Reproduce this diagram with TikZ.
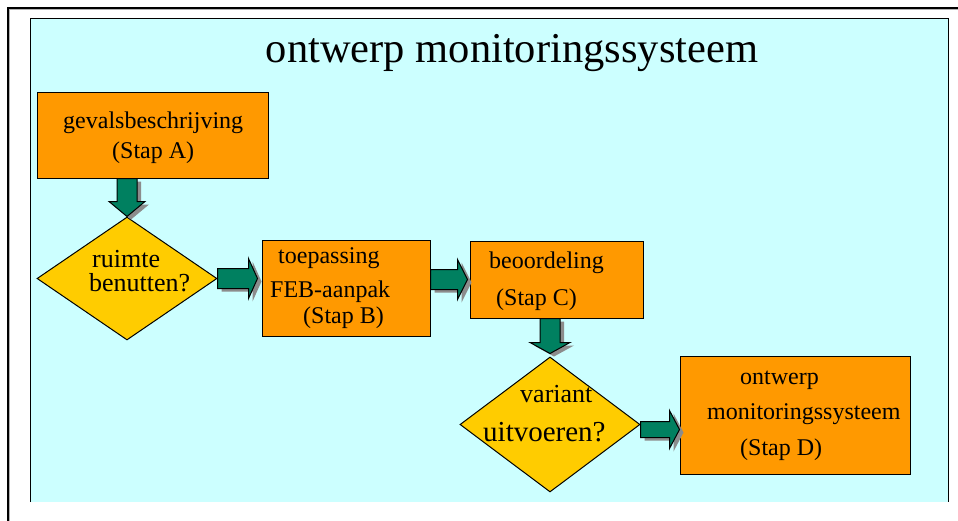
\documentclass[tikz,border=0pt]{standalone}
\usepackage{fontspec}
\setmainfont{Liberation Serif}
\usetikzlibrary{shapes.geometric,calc}
\definecolor{panelcyan}{HTML}{CCFFFF}
\definecolor{boxorange}{HTML}{FF9900}
\definecolor{diayellow}{HTML}{FFCC00}
\definecolor{arrgreen}{HTML}{008060}
\definecolor{shadowgray}{HTML}{8C8C8C}
\tikzset{
 stepbox/.style={draw=black, line width=1pt, fill=boxorange, inner sep=0pt},
 decision/.style={diamond, draw=black, line width=1pt, fill=diayellow, inner sep=0pt},
 boxtext/.style={anchor=base west, font=\fontsize{24}{28}\selectfont, inner sep=0pt},
 diatext/.style={anchor=base west, font=\fontsize{26}{30}\selectfont, inner sep=0pt},
 arrbody/.style={fill=arrgreen, draw=black, line width=1pt, line join=miter},
 arrshadow/.style={fill=shadowgray},
}
% right-pointing block arrow: #1 start, #2 tip (x only), #3 half stem, #4 half head, #5 head length
\newcommand\blkRight[5]{%
 \fill[arrshadow] let \p1=(#1),\p2=(#2) in
  (\x1+4pt,\y1+#3-3pt) -- (\x2-#5+4pt,\y1+#3-3pt) -- (\x2-#5+4pt,\y1+#4-3pt) -- (\x2+4pt,\y1-3pt)
  -- (\x2-#5+4pt,\y1-#4-3pt) -- (\x2-#5+4pt,\y1-#3-3pt) -- (\x1+4pt,\y1-#3-3pt) -- cycle;
 \draw[arrbody] let \p1=(#1),\p2=(#2) in
  (\x1,\y1+#3) -- (\x2-#5,\y1+#3) -- (\x2-#5,\y1+#4) -- (\x2,\y1)
  -- (\x2-#5,\y1-#4) -- (\x2-#5,\y1-#3) -- (\x1,\y1-#3) -- cycle;
}
% down-pointing block arrow: #1 start, #2 tip (y only)
\newcommand\blkDown[5]{%
 \fill[arrshadow] let \p1=(#1),\p2=(#2) in
  (\x1-#3+4pt,\y1-3pt) -- (\x1+#3+4pt,\y1-3pt) -- (\x1+#3+4pt,\y2+#5-3pt) -- (\x1+#4+4pt,\y2+#5-3pt)
  -- (\x1+4pt,\y2-3pt) -- (\x1-#4+4pt,\y2+#5-3pt) -- (\x1-#3+4pt,\y2+#5-3pt) -- cycle;
 \draw[arrbody] let \p1=(#1),\p2=(#2) in
  (\x1-#3,\y1) -- (\x1+#3,\y1) -- (\x1+#3,\y2+#5) -- (\x1+#4,\y2+#5)
  -- (\x1,\y2) -- (\x1-#4,\y2+#5) -- (\x1-#3,\y2+#5) -- cycle;
}
\begin{document}
\begin{tikzpicture}[x=1pt,y=-1pt]
\useasboundingbox (0,0) rectangle (958,520);
\fill[white] (0,0) rectangle (958,520);
% slide frame
\draw[line width=2pt, gray!60] (9,530) -- (9,9) -- (965,9);
\draw[line width=1.2pt, black] (8,530) -- (8,8) -- (965,8);
% panel
\fill[panelcyan] (30,18) rectangle (948,502);
\draw[line width=1pt, black] (30,502) -- (30,18) -- (948,18) -- (948,502);
\node[font=\fontsize{42.5}{48}\selectfont, anchor=base, inner sep=0pt] (title) at (512,62) {ontwerp monitoringssysteem};
% boxes
\node[stepbox, minimum width=231pt, minimum height=86pt] (A) at (152.5,135) {};
\node[stepbox, minimum width=168pt, minimum height=96pt] (B) at (346,288) {};
\node[stepbox, minimum width=173pt, minimum height=77pt] (C) at (556.5,279.5) {};
\node[stepbox, minimum width=230pt, minimum height=118pt] (D) at (795,415) {};
\node[decision, minimum width=180pt, minimum height=123pt] (d1) at (127,278.5) {};
\node[decision, minimum width=180pt, minimum height=135pt] (d2) at (550,424.5) {};
% texts
\node[boxtext] (tA1) at (63,128) {gevalsbeschrijving};
\node[boxtext] (tA2) at (112,158) {(Stap A)};
\node[boxtext] (tB1) at (278,263) {toepassing};
\node[boxtext] (tB2) at (270,297) {FEB-aanpak};
\node[boxtext] (tB3) at (303,323) {(Stap B)};
\node[boxtext] (tC1) at (489,268) {beoordeling};
\node[boxtext] (tC2) at (496,305) {(Stap C)};
\node[boxtext] (tD1) at (740,384) {ontwerp};
\node[boxtext] (tD2) at (707,419) {monitoringssysteem};
\node[boxtext] (tD3) at (740,455) {(Stap D)};
\node[diatext] (t11) at (92,267) {ruimte};
\node[diatext] (t12) at (89,291) {benutten?};
\node[diatext] (t21) at (520,402) {variant};
\node[diatext, font=\fontsize{29}{33}\selectfont] (t22) at (483,441) {uitvoeren?};
% arrows
\blkDown{A.south -| d1.north}{d1.north}{10pt}{18pt}{15pt}
\blkRight{d1.east}{$(B.west)+(-4,0)$}{10pt}{20pt}{9pt}
\blkRight{B.east |- C.west}{$(C.west)+(-2,0)$}{10pt}{20pt}{10pt}
\blkDown{C.south -| d2.north}{$(d2.north)+(0,-3)$}{10pt}{20pt}{11pt}
\blkRight{$(d2.east)+(0,5)$}{D.west}{8pt}{19pt}{10pt}
\end{tikzpicture}
\end{document}
